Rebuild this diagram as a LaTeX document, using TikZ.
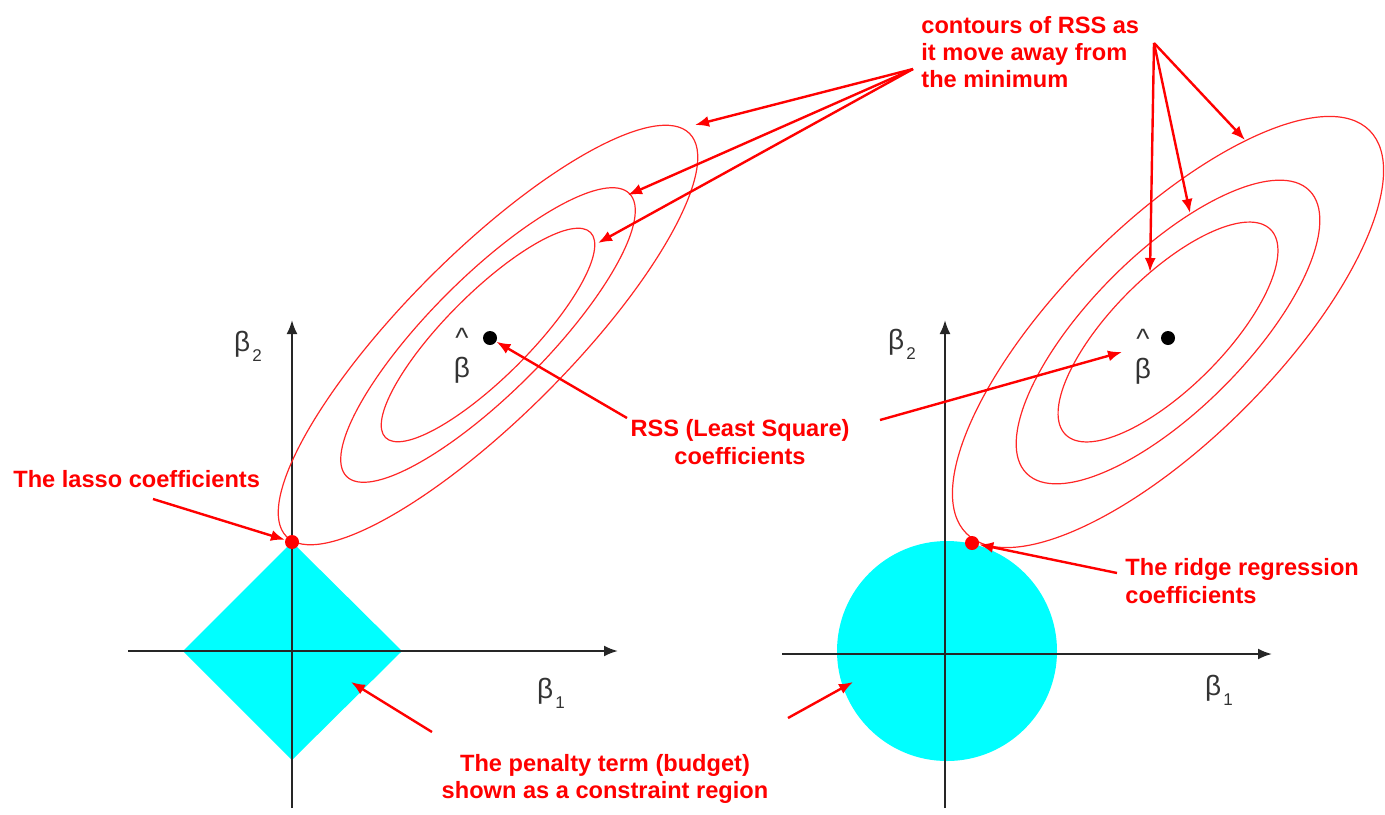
\documentclass[tikz,border=0pt]{standalone}
\usepackage{fontspec}
\setmainfont{Liberation Sans}
\usetikzlibrary{arrows.meta}
\definecolor{aqua}{RGB}{0,255,255}

\begin{document}
\begin{tikzpicture}[x=0.5pt,y=-0.5pt,
  note/.style={text=red,font=\fontsize{11.8}{13.6}\selectfont\bfseries,inner sep=0pt},
  greek/.style={text=black!80,font=\fontsize{14}{16}\selectfont,inner sep=0pt},
  pointer/.style={red,line width=1.2pt,-{Latex[length=7pt,width=5.5pt]}},
  axis/.style={black!85,line width=1.1pt,-{Latex[length=7pt,width=5.5pt]}},
  contour/.style={red!85!white,line width=0.6pt},
  dot/.style={circle,fill,inner sep=0pt,minimum size=7pt}]
\useasboundingbox (0,0) rectangle (1385,814);
% lasso side
\coordinate (cL) at (488,335);
\fill[aqua] (292,542) -- (402,651) -- (292,760) -- (183,651) -- cycle;
\draw[axis] (292,808) -- (292,320);
\draw[axis] (128,651) -- (618,651);
\foreach \a/\b in {285/82,200/58,145/42}
  \draw[contour,rotate around={45:(cL)}] (cL) ellipse [x radius=\a,y radius=\b];
\node[dot,red] (lasso) at (292,542) {};
\node[dot] (bL) at (490,338) {};
\node[greek,align=center] (hatL) at (462,356) {\^{}\\[-1pt]β};
\node[greek] (b2L) at (248,346) {β\kern1pt\raisebox{-5pt}{\fontsize{8.5}{9}\selectfont 2}};
\node[greek] (b1L) at (551,693) {β\kern1pt\raisebox{-5pt}{\fontsize{8.5}{9}\selectfont 1}};
% ridge side
\coordinate (cR) at (1168,332);
\fill[aqua] (947,651) circle [radius=110];
\draw[axis] (945,808) -- (945,320);
\draw[axis] (782,654) -- (1272,654);
\foreach \a/\b in {285/108,200/78,145/56}
  \draw[contour,rotate around={45:(cR)}] (cR) ellipse [x radius=\a,y radius=\b];
\node[dot,red] (ridge) at (972,543) {};
\node[dot] (bR) at (1168,338) {};
\node[greek,align=center] (hatR) at (1143,357) {\^{}\\[-1pt]β};
\node[greek] (b2R) at (902,344) {β\kern1pt\raisebox{-5pt}{\fontsize{8.5}{9}\selectfont 2}};
\node[greek] (b1R) at (1219,690) {β\kern1pt\raisebox{-5pt}{\fontsize{8.5}{9}\selectfont 1}};
% labels
\node[note,align=left,anchor=west] (contours) at (921,52)
  {contours of RSS as\\it move away from\\the minimum};
\node[note,anchor=west] (lassolab) at (13,479) {The lasso coefficients};
\node[note,align=center] (rss) at (740,442) {RSS (Least Square)\\coefficients};
\node[note,align=left,anchor=west] (ridgelab) at (1125,581) {The ridge regression\\coefficients};
\node[note,align=center] (penalty) at (605,779) {The penalty term (budget)\\shown as a constraint region};
% arrows
\coordinate (cA) at (913,69);
\coordinate (cB) at (1154,43);
\foreach \p in {(695,125),(628,195),(598,243)} \draw[pointer] (cA) -- \p;
\foreach \p in {(1150,272),(1190,213),(1245,140)} \draw[pointer] (cB) -- \p;
\coordinate (rA) at (627,418);
\coordinate (rB) at (880,420);
\draw[pointer] (rA) -- (bL);
\draw[pointer] (rB) -- (1122,352);
\coordinate (lA) at (153,499);
\draw[pointer] (lA) -- (lasso);
\coordinate (gA) at (1117,573);
\draw[pointer] (gA) -- (ridge);
\coordinate (pA) at (432,732);
\coordinate (pB) at (788,718);
\draw[pointer] (pA) -- (351,682);
\draw[pointer] (pB) -- (853,682);
\end{tikzpicture}
\end{document}
